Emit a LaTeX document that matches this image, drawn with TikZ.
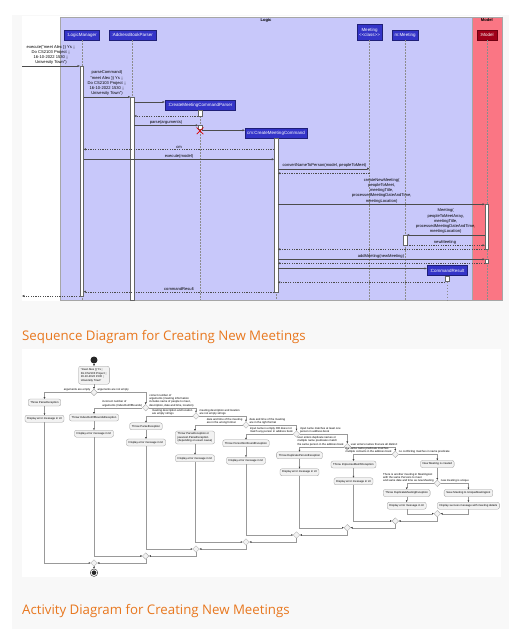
\documentclass[tikz,border=0pt]{standalone}
\usepackage{fontspec}
\setmainfont{Liberation Sans}
\newfontfamily\titlefont{Open Sans}
\usetikzlibrary{arrows.meta,shapes.geometric,shapes.misc}
\definecolor{panel}{HTML}{F8F8F8}
\definecolor{logicfill}{RGB}{200,200,250}
\definecolor{modelfill}{RGB}{250,118,132}
\definecolor{partblue}{RGB}{52,52,200}
\definecolor{partred}{RGB}{160,0,25}
\definecolor{titleor}{HTML}{E8771E}
\begin{document}
\begin{tikzpicture}[x=1pt, y=-1pt,
  grp/.style={draw=black!35, line width=0.4pt, inner sep=0, anchor=north west},
  grptitle/.style={font=\bfseries\fontsize{4.1}{5}\selectfont, inner sep=0},
  part/.style={draw=partblue!60!black, fill=partblue, text=white, font=\fontsize{4.5}{5.2}\selectfont, inner sep=0, minimum height=10, align=center},
  actbar/.style={draw=black!60, fill=white, line width=0.35pt, minimum width=3.5, inner sep=0, anchor=north},
  life/.style={draw=black!45, line width=0.35pt, dash pattern=on 1.5pt off 1.5pt},
  msg/.style={draw=black!70, line width=0.4pt, -{Triangle[length=2.3pt,width=2pt]}},
  ret/.style={msg, dash pattern=on 1.3pt off 1.1pt},
  mlab/.style={font=\fontsize{4.1}{5.3}\selectfont, inner sep=0, align=center, anchor=south},
  actn/.style={draw=black!40, fill=black!5, rounded corners=2, line width=0.3pt, font=\fontsize{2.8}{3.4}\selectfont, inner xsep=2.2, inner ysep=1.8, minimum height=7, align=center},
  dia/.style={diamond, draw=black!40, fill=black!5, line width=0.3pt, inner sep=0, minimum width=6.6, minimum height=6.6},
  flow/.style={draw=black!40, line width=0.35pt, -{Triangle[length=1.8pt,width=1.6pt,color=black!75]}},
  alab/.style={font=\fontsize{2.8}{3.4}\selectfont, inner sep=0, align=left},
  ttl/.style={font=\titlefont\fontsize{13.25}{15}\selectfont, text=titleor, inner sep=0, anchor=base west}
]
\useasboundingbox (0,0) rectangle (521,629);
\fill[white] (0,0) rectangle (521,629);
\fill[panel] (12,15) rectangle (509,629);
\fill[white] (22,16) rectangle (502,301);
\fill[white] (22,349) rectangle (501,577);

% ---------- sequence diagram ----------
\node[grp, fill=logicfill, minimum width=412, minimum height=283] (logic) at (60,17) {};
\node[grp, fill=modelfill, minimum width=29.7, minimum height=283] (model) at (472,17) {};
\node[grptitle] (logicT) at (266,20.5) {Logic};
\node[grptitle] (modelT) at (486.8,20.5) {Model};

\node[part, minimum width=35] (lm) at (81.75,35) {:LogicManager};
\node[part, minimum width=47] (abp) at (132.25,35) {:AddressBookParser};
\node[part, minimum width=70] (cmcp) at (200,105) {:CreateMeetingCommandParser};
\node[part, minimum width=62] (cm) at (276,133) {cm:CreateMeetingCommand};
\node[part, minimum width=25, minimum height=16] (mc) at (369.5,32) {Meeting\\{<}{<}class{>}{>}};
\node[part, minimum width=26] (mm) at (405,35) {m:Meeting};
\node[part, fill=partred, draw=partred!70!black, minimum width=20] (mo) at (486.75,35) {:Model};
\node[part, minimum width=40] (cr) at (447,270.5) {:CommandResult};

\foreach \p in {lm,abp,cmcp,cm,mc,mm,mo,cr} \draw[life] (\p.south) -- (\p.south |- 0,300);

\node[actbar, minimum height=230] (lmA) at (81.75,66) {};
\node[actbar, minimum height=203] (abpA) at (132.25,97) {};
\node[actbar, minimum height=6] (cmcpA) at (200,110) {};
\node[actbar, minimum height=4] (cmcpB) at (200,125.3) {};
\node[actbar, minimum height=154] (cmA) at (276,138) {};
\node[actbar, minimum height=45] (moA) at (486.75,204.3) {};
\node[actbar, minimum height=10.3] (mmA) at (405,235) {};
\node[actbar, minimum height=4] (moB) at (486.75,259.3) {};
\node[actbar, minimum height=5.7] (crA) at (447,275.5) {};
\node[cross out, draw=red!85!black, line width=0.7pt, minimum size=6, inner sep=0] (dx) at (200,130.8) {};

\coordinate (foundL) at (22,66);
\coordinate (foundR) at (22,296);
\draw[msg] (foundL) -- (lmA.west |- foundL);
\node[mlab] (l1) at (51,65) {execute("meet Alex \}\} Ys ;;\\Do CS2103 Project ;;\\16-10-2022 1530 ;;\\University Town")};
\draw[msg] (lmA.east |- 0,97) -- (abpA.west |- 0,97);
\node[mlab] (l2) at (107,96) {parseCommand(\\"meet Alex \}\} Ys ;;\\Do CS2103 Project ;;\\16-10-2022 1530 ;;\\University Town")};
\draw[msg] (abpA.east |- 0,102) -- (cmcp.west |- 0,102);
\draw[ret] (cmcpA.west |- 0,116) -- (abpA.east |- 0,116);
\draw[msg] (abpA.east |- 0,125.3) -- (cmcpB.west |- 0,125.3);
\node[mlab] (l3) at (166,124.3) {parse(arguments)};
\draw[msg] (cmcpB.east |- 0,130.3) -- (cm.west |- 0,130.3);
\draw[ret] (cmA.west |- 0,149.3) -- (lmA.east |- 0,149.3);
\node[mlab] (l4) at (179,148.3) {cm};
\draw[msg] (lmA.east |- 0,159.3) -- (cmA.west |- 0,159.3);
\node[mlab] (l5) at (179,158.3) {execute(model)};
\draw[msg] (cmA.east |- 0,168.7) -- (mc.south |- 0,168.7);
\node[mlab] (l6) at (324.5,167.9) {convertNameToPerson(model, peopleToMeet)};
\draw[ret] (mc.south |- 0,173.3) -- (cmA.east |- 0,173.3);
\draw[msg] (cmA.east |- 0,204.3) -- (moA.west |- 0,204.3);
\node[mlab] (l7) at (381.7,203.3) {createNewMeeting(\\peopleToMeet,\\meetingTitle,\\processedMeetingDateAndTime,\\meetingLocation)};
\draw[msg] (moA.west |- 0,235) -- (mmA.east |- 0,235);
\node[mlab] (l8) at (445.7,234) {Meeting(\\peopleToMeetArray,\\meetingTitle,\\processedMeetingDateAndTime,\\meetingLocation)};
\draw[ret] (mmA.east |- 0,245.3) -- (moA.west |- 0,245.3);
\node[mlab] (l9) at (445,244.3) {newMeeting};
\draw[ret] (moA.west |- 0,249.3) -- (cmA.east |- 0,249.3);
\draw[msg] (cmA.east |- 0,259.3) -- (moB.west |- 0,259.3);
\node[mlab] (l10) at (381,258.3) {addMeeting(newMeeting)};
\draw[ret] (moB.west |- 0,263.3) -- (cmA.east |- 0,263.3);
\draw[msg] (cmA.east |- 0,268.5) -- (cr.west |- 0,268.5);
\draw[ret] (crA.west |- 0,282.3) -- (cmA.east |- 0,282.3);
\draw[ret] (cmA.west |- 0,291.7) -- (lmA.east |- 0,291.7);
\node[mlab] (l11) at (179,290.7) {commandResult};
\draw[ret] (lmA.west |- foundR) -- (foundR);

\node[ttl] (t1) at (22,340) {Sequence Diagram for Creating New Meetings};

% ---------- activity diagram ----------
\node[circle, fill=black!85, minimum size=7, inner sep=0] (st) at (94,360) {};
\node[actn, align=left, inner ysep=2.6] (a0) at (94,375.2) {"meet Alex \}\} Ys ;;\\Do CS2103 Project ;;\\16-10-2022 1530 ;;\\University Town"};

\node[dia] (d1) at (94,392.3) {};
\node[dia] (d2) at (145.7,407.7) {};
\node[dia] (d3) at (196,416) {};
\node[dia] (d4) at (246,425) {};
\node[dia] (d5) at (296.5,434) {};
\node[dia] (d6) at (347.3,446.7) {};
\node[dia] (d7) at (395.3,454.3) {};
\node[dia] (d8) at (437.3,483.3) {};

\node[actn] (tpe1) at (44.5,402.5) {Throw ParseException};
\node[actn] (dem1) at (44.5,418.7) {Display error message in UI};
\node[actn] (tioob) at (94,417.5) {Throw IndexOutOfBoundsException};
\node[actn] (dem2) at (94,433.7) {Display error message in UI};
\node[actn] (tpe2) at (146,426.3) {Throw ParseException};
\node[actn] (dem3) at (146,442.5) {Display error message in UI};
\node[actn, align=left] (tpe3) at (195,437.5) {Throw ParseException or\\java.text.ParseException\\(depending on exact cause)};
\node[actn] (dem4) at (195,458.3) {Display error message in UI};
\node[actn] (tpnf) at (246,443.3) {Throw PersonNotFoundException};
\node[actn] (dem5) at (246,460.7) {Display error message in UI};
\node[actn] (tdp) at (299.5,455.3) {Throw DuplicatePersonException};
\node[actn] (dem6) at (299.5,472.2) {Display error message in UI};
\node[actn] (tim) at (353.5,464.5) {Throw ImpreciseMatchException};
\node[actn] (dem7) at (353.5,481.3) {Display error message in UI};
\node[actn] (nmc) at (437.3,464) {New Meeting is created};
\node[actn] (tdm) at (406.7,493) {Throw DuplicateMeetingException};
\node[actn] (dem8) at (406.7,505.7) {Display error message in UI};
\node[actn] (save) at (468.4,493) {Save Meeting to UniqueMeetingList};
\node[actn] (dsuc) at (468.4,505.7) {Display success message with meeting details};

\node[dia] (m1) at (94,563) {};
\node[dia] (m2) at (145.7,556) {};
\node[dia] (m3) at (196,549) {};
\node[dia] (m4) at (246,542) {};
\node[dia] (m5) at (296.5,535) {};
\node[dia] (m6) at (347.3,527.7) {};
\node[dia] (m7) at (395.3,521) {};
\node[dia] (m8) at (437.3,513.7) {};
\node[circle, draw=black!85, line width=0.4pt, minimum size=7.5, inner sep=0] (en) at (94,572.7) {};
\fill[black!85] (en.center) circle (2.3);

\draw[flow] (st) -- (a0);
\draw[flow] (a0) -- (d1);
\draw[flow] (d1.west) -| (tpe1.north);
\draw[flow] (tpe1) -- (dem1);
\draw[flow] (d1.east) -| (d2.north);
\draw[flow] (d2.west) -| (tioob.north);
\draw[flow] (tioob) -- (dem2);
\draw[flow] (d2.east) -| (d3.north);
\draw[flow] (d3.west) -| (tpe2.north);
\draw[flow] (tpe2) -- (dem3);
\draw[flow] (d3.east) -| (d4.north);
\draw[flow] (d4.west) -| (tpe3.north);
\draw[flow] (tpe3) -- (dem4);
\draw[flow] (d4.east) -| (d5.north);
\draw[flow] (d5.west) -| (tpnf.north);
\draw[flow] (tpnf) -- (dem5);
\draw[flow] (d5.east) -| (d6.north);
\draw[flow] (d6.west) -| (tdp.north);
\draw[flow] (tdp) -- (dem6);
\draw[flow] (d6.east) -| (d7.north);
\draw[flow] (d7.west) -| (tim.north);
\draw[flow] (tim) -- (dem7);
\draw[flow] (d7.east) -| (nmc.north);
\draw[flow] (nmc) -- (d8);
\draw[flow] (d8.west) -| (tdm.north);
\draw[flow] (tdm) -- (dem8);
\draw[flow] (d8.east) -| (save.north);
\draw[flow] (save) -- (dsuc);

\draw[flow] (dem8.south) |- (m8.west);
\draw[flow] (dsuc.south) |- (m8.east);
\draw[flow] (dem7.south) |- (m7.west);
\draw[flow] (m8.south) |- (m7.east);
\draw[flow] (dem6.south) |- (m6.west);
\draw[flow] (m7.south) |- (m6.east);
\draw[flow] (dem5.south) |- (m5.west);
\draw[flow] (m6.south) |- (m5.east);
\draw[flow] (dem4.south) |- (m4.west);
\draw[flow] (m5.south) |- (m4.east);
\draw[flow] (dem3.south) |- (m3.west);
\draw[flow] (m4.south) |- (m3.east);
\draw[flow] (dem2.south) |- (m2.west);
\draw[flow] (m3.south) |- (m2.east);
\draw[flow] (dem1.south) |- (m1.west);
\draw[flow] (m2.south) |- (m1.east);
\draw[flow] (m1) -- (en);

\node[alab, anchor=south east] (d1l) at ([yshift=0.6pt]d1.west) {arguments are empty};
\node[alab, anchor=south west] (d1r) at ([yshift=0.6pt]d1.east) {arguments are not empty};
\node[alab, anchor=south east] (d2l) at ([yshift=0.6pt]d2.west) {incorrect number of\\arguments (IndexOutOfBounds)};
\node[alab, anchor=south west] (d2r) at ([yshift=0.6pt]d2.east) {correct number of\\arguments (meeting information\\includes name of people to meet,\\description, date and time, location)};
\node[alab, anchor=south east] (d3l) at ([yshift=0.6pt]d3.west) {meeting description and location\\are empty strings};
\node[alab, anchor=south west] (d3r) at ([yshift=0.6pt]d3.east) {meeting description and location\\are not empty strings};
\node[alab, anchor=south east] (d4l) at ([yshift=0.6pt]d4.west) {date and time of the meeting\\are in the wrong format};
\node[alab, anchor=south west] (d4r) at ([yshift=0.6pt]d4.east) {date and time of the meeting\\are in the right format};
\node[alab, anchor=south east] (d5l) at ([yshift=0.6pt]d5.west) {input name is empty OR does not\\match any person in address book};
\node[alab, anchor=south west] (d5r) at ([yshift=0.6pt]d5.east) {input name matches at least one\\person in address book};
\node[alab, anchor=south east] (d6l) at ([yshift=0.6pt]d6.west) {user enters duplicate names or\\multiple name predicates match\\the same person in the address book};
\node[alab, anchor=south west] (d6r) at ([yshift=0.6pt]d6.east) {user enters names that are all distinct};
\node[alab, anchor=south east] (d7l) at ([yshift=0.6pt]d7.west) {the same name predicate matches\\multiple contacts in the address book};
\node[alab, anchor=south west] (d7r) at ([yshift=0.6pt]d7.east) {no conflicting matches in name predicate};
\node[alab, anchor=south east] (d8l) at ([yshift=0.6pt]d8.west) {There is another meeting in MeetingList\\with the same Persons to meet\\and same date and time as new Meeting};
\node[alab, anchor=south west] (d8r) at ([yshift=0.6pt]d8.east) {new meeting is unique};

\node[ttl] (t2) at (22,614) {Activity Diagram for Creating New Meetings};
\end{tikzpicture}
\end{document}
